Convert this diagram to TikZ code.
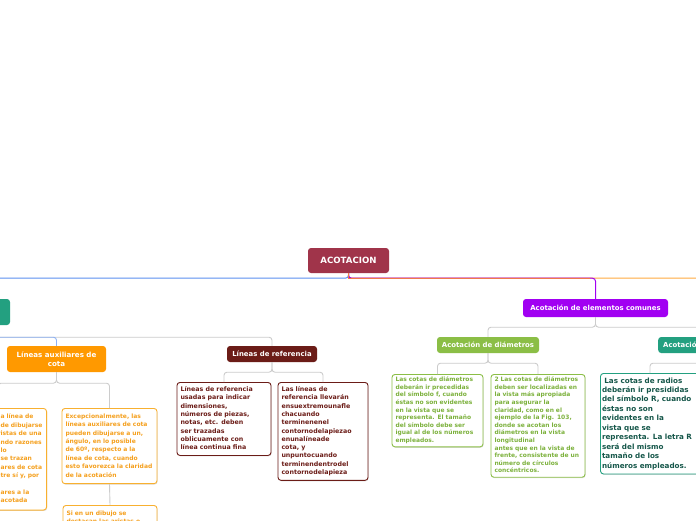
\documentclass[tikz,border=0pt]{standalone}
\usepackage{fontspec}
\setmainfont{DejaVu Sans}
\usetikzlibrary{shadows}
\definecolor{rootc}{HTML}{A0344A}
\definecolor{purplec}{HTML}{A100F2}
\definecolor{greenc}{HTML}{8BBE46}
\definecolor{greentext}{HTML}{7CB13C}
\definecolor{tealc}{HTML}{23A080}
\definecolor{tealtext}{HTML}{16574A}
\definecolor{orangec}{HTML}{FF9900}
\definecolor{orangetext}{HTML}{F5A01E}
\definecolor{orangeborder}{HTML}{F8B030}
\definecolor{brownc}{HTML}{6B1C17}
\definecolor{linec}{HTML}{CCCCCC}
\definecolor{bluec}{HTML}{5C8FF0}
\definecolor{coralc}{HTML}{F0784A}
\definecolor{orangeline}{HTML}{FFAA40}
\newcommand\lns[1]{\begin{tabular}{@{}l@{}}#1\end{tabular}}
\newcommand\pre[1]{\makebox[47.5pt][r]{#1}}
\tikzset{
  topic/.style={rounded corners=3pt, inner sep=0pt, text=white, align=center,
    font=\fontsize{6.9}{8.6}\selectfont\bfseries},
  box/.style={draw, line width=0.9pt, rounded corners=3pt, fill=white, anchor=north,
    inner xsep=3.5pt, inner ysep=2.5pt, align=left,
    drop shadow={shadow xshift=0.6pt, shadow yshift=-0.9pt, opacity=0.25}},
  obox/.style={box, draw=orangeborder, text=orangetext, inner ysep=4pt, font=\fontsize{6.0}{8.4}\selectfont\bfseries},
  bbox/.style={box, draw=brownc, text=brownc, inner ysep=3.3pt, font=\fontsize{6.3}{8.3}\selectfont\bfseries},
  gbox/.style={box, draw=greenc, text=greentext, inner ysep=2pt, font=\fontsize{5.95}{7.6}\selectfont\bfseries},
  tbox/.style={box, draw=tealc, text=tealtext, inner xsep=1.5pt, inner ysep=3pt, font=\fontsize{7.2}{9.45}\selectfont\bfseries},
  conn/.style={draw=linec, line width=0.9pt, rounded corners=3pt},
}
\begin{document}
\begin{tikzpicture}[x=1pt,y=-1pt]
\useasboundingbox (0,0) rectangle (696,520);
\clip (0,0) rectangle (696,520);
\fill[white] (0,0) rectangle (696,520);

% topics
\node[topic, fill=rootc, minimum width=81pt, minimum height=25pt,
  font=\fontsize{8.6}{9}\selectfont\bfseries] (root) at (348.5,260.5) {ACOTACION};
\node[topic, fill=purplec, minimum width=145pt, minimum height=18pt] (common) at (595.5,308) {Acotación de elementos comunes};
\node[topic, fill=greenc, minimum width=102pt, minimum height=16pt] (diam) at (488,345) {Acotación de diámetros};
\node[topic, fill=tealc, minimum height=16pt, inner xsep=5pt, anchor=west] (radios) at (658,345) {Acotación de radios};
\node[topic, fill=tealc, minimum width=120pt, minimum height=26pt] (leftA) at (-50,312) {Líneas de cota};
\node[topic, fill=orangec, minimum width=99pt, minimum height=26pt, font=\fontsize{7.1}{8.8}\selectfont\bfseries] (aux) at (56.5,359) {Líneas auxiliares de\\cota};
\node[topic, fill=brownc, minimum width=90pt, minimum height=16pt] (ref) at (272,354) {Líneas de referencia};
\coordinate (farR) at (800,312);
\coordinate (split) at (590,278);

% boxes
\node[obox, inner ysep=4.6pt, text width=90pt, anchor=north east] (a1) at (47,408) {\lns{%
\pre{Partirán de l}a línea de\\
\pre{contorno. Pue}de dibujarse\\
\pre{sobre las ar}istas de una\\
\pre{pieza cua}ndo razones\\
\pre{de claridad }lo\\
\pre{exijan. Lo }se trazan\\
\pre{auxili}ares de cota\\
\pre{paralelas en}tre sí y, por\\
\pre{general}\\
\pre{perpendicul}ares a la\\
\pre{dimensión }acotada}};
\node[obox, text width=88pt] (a2) at (109.5,408) {\lns{%
Excepcionalmente, las\\
líneas auxiliares de cota\\
pueden dibujarse a un,\\
ángulo, en lo posible\\
de 60º, respecto a la\\
línea de cota, cuando\\
esto favorezca la claridad\\
de la acotación}};
\node[obox, text width=87pt] (a3) at (110,505) {\lns{%
Si en un dibujo se\\
destacan las aristas o\\
contornos ocultos,\\
se dibujan}};
\node[bbox, text width=87pt] (r1) at (224,382) {\lns{%
Líneas de referencia\\
usadas para indicar\\
dimensiones,\\
números de piezas,\\
notas, etc. deben\\
ser trazadas\\
oblicuamente con\\
línea continua fina}};
\node[bbox, text width=83pt] (r2) at (323,382) {\lns{%
Las líneas de\\
referencia llevarán\\
ensuextremounafle\\
chacuando\\
terminenenel\\
contornodelapiezao\\
enunalíneade\\
cota, y\\
unpuntocuando\\
terminendentrodel\\
contornodelapieza}};
\node[gbox, text width=84pt] (gd1) at (437.5,374) {\lns{%
Las cotas de diámetros\\
deberán ir precedidas\\
del símbolo f, cuando\\
éstas no son evidentes\\
en la vista que se\\
representa. El tamaño\\
del símbolo debe ser\\
igual al de los números\\
empleados.}};
\node[gbox, text width=87pt] (gd2) at (538,374) {\lns{%
2 Las cotas de diámetros\\
deben ser localizadas en\\
la vista más apropiada\\
para asegurar la\\
claridad, como en el\\
ejemplo de la Fig. 103,\\
donde se acotan los\\
diámetros en la vista\\
longitudinal\\
antes que en la vista de\\
frente, consistente de un\\
número de círculos\\
concéntricos.}};
\node[tbox, text width=96pt] (rb) at (650,373) {\lns{%
\ Las cotas de radios\\
deberán ir presididas\\
del símbolo R, cuando\\
éstas no son\\
evidentes en la\\
vista que se\\
representa. La letra R\\
será del mismo\\
tamaño de los\\
números empleados.}};

% connectors from root
\draw[orangeline, line width=1pt, rounded corners=3pt] (root.south) -- ++(0,5) -| (farR);
\draw[purplec, line width=1pt, rounded corners=3pt] (root.south) -- ++(0,5) -| (common.north);
\draw[bluec, line width=1pt, rounded corners=3pt] (root.south) -- ++(0,5) -| (leftA.north);
\draw[coralc, line width=1pt] (root.south) |- (split);

% second level
\draw[conn] (common.south) -- ++(0,10) -| (diam.north);
\draw[conn] (common.south) -- ++(0,10) -| (radios.north);
\draw[conn] (leftA.south) -- ++(0,12) -| (ref.north);
\draw[conn, draw=bluec!70] (leftA.south) -- ++(0,12) -| (aux.north);

% third level
\draw[conn] (diam.south) -- ++(0,10) -| (gd1.north);
\draw[conn] (diam.south) -- ++(0,10) -| (gd2.north);
\draw[conn] (radios.south) -- ++(0,10) -| (rb.north);
\draw[conn] (aux.south) -- ++(0,11) -| (a1.north);
\draw[conn] (aux.south) -- ++(0,11) -| (a2.north);
\draw[conn] (a2.south) -- (a3.north);
\draw[conn] (ref.south) -- ++(0,10) -| (r1.north);
\draw[conn] (ref.south) -- ++(0,10) -| (r2.north);
\end{tikzpicture}
\end{document}
